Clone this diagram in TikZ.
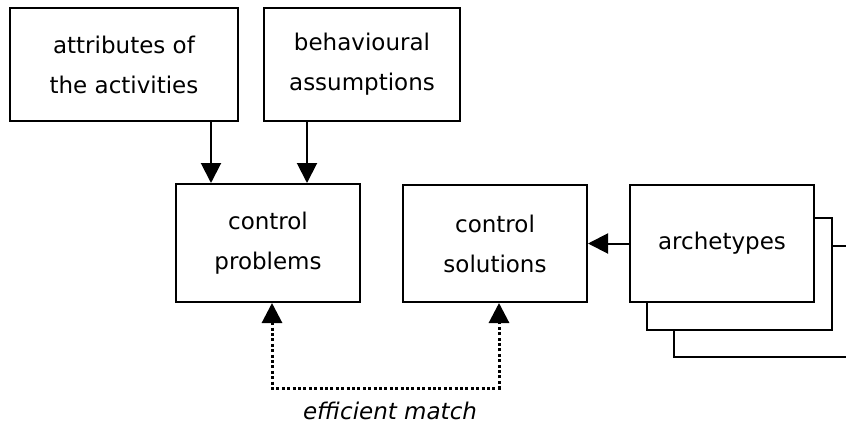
\documentclass[tikz,border=0pt]{standalone}
\usepackage{fontspec}
\setmainfont{DejaVu Sans}
\usetikzlibrary{arrows.meta}

\begin{document}
\begin{tikzpicture}[x=0.5pt, y=-0.5pt]
    \tikzstyle{box}=[
        draw = black,
        line width = 1pt,
        fill = white,
        align = center,
        inner sep = 0pt,
        font = \fontsize{11.5}{20}\selectfont
    ]
    \tikzstyle{link}=[
        line width = 1pt,
        -{Triangle[length=10pt, width=10pt]}
    ]
    \tikzstyle{match}=[
        line width = 1.5pt,
        dash pattern = on 1.5pt off 1.2pt,
        {Triangle[length=10pt, width=10pt]}-{Triangle[length=10pt, width=10pt]}
    ]

    \useasboundingbox (0, 0) rectangle (846, 423);

    \node[box, minimum width=114pt, minimum height=56.5pt] (attr) at (124, 64.5)  {attributes of\\the activities};
    \node[box, minimum width=98pt,  minimum height=56.5pt] (behav) at (362, 64.5) {behavioural\\assumptions};
    \node[box, minimum width=92pt,  minimum height=59pt]   (prob) at (268, 243)   {control\\problems};
    \node[box, minimum width=92pt,  minimum height=58.5pt] (sol) at (495, 243.5)  {control\\solutions};

    % stacked archetype cards, back to front
    \node[box, minimum width=92.5pt, minimum height=55.5pt] (arch3) at (766.5, 301.5) {};
    \node[box, minimum width=92.5pt, minimum height=56pt]   (arch2) at (739.5, 274)   {};
    \node[box, minimum width=92pt,   minimum height=58.5pt] (arch) at (722, 243.5)    {archetypes};

    \draw[link] ([xshift=-28.5pt]prob.north |- attr.south) -- ([xshift=-28.5pt]prob.north);
    \draw[link] ([xshift=19.5pt]prob.north |- behav.south) -- ([xshift=19.5pt]prob.north);
    \draw[link] (arch.west) -- (sol.east);
    \draw[match] ([xshift=2pt]prob.south) -- ++(0, 85) -| ([xshift=2pt]sol.south);

    \node[font=\fontsize{11.5}{14}\selectfont\itshape] (eff) at (390, 411) {efficient match};

\end{tikzpicture}
\end{document}
